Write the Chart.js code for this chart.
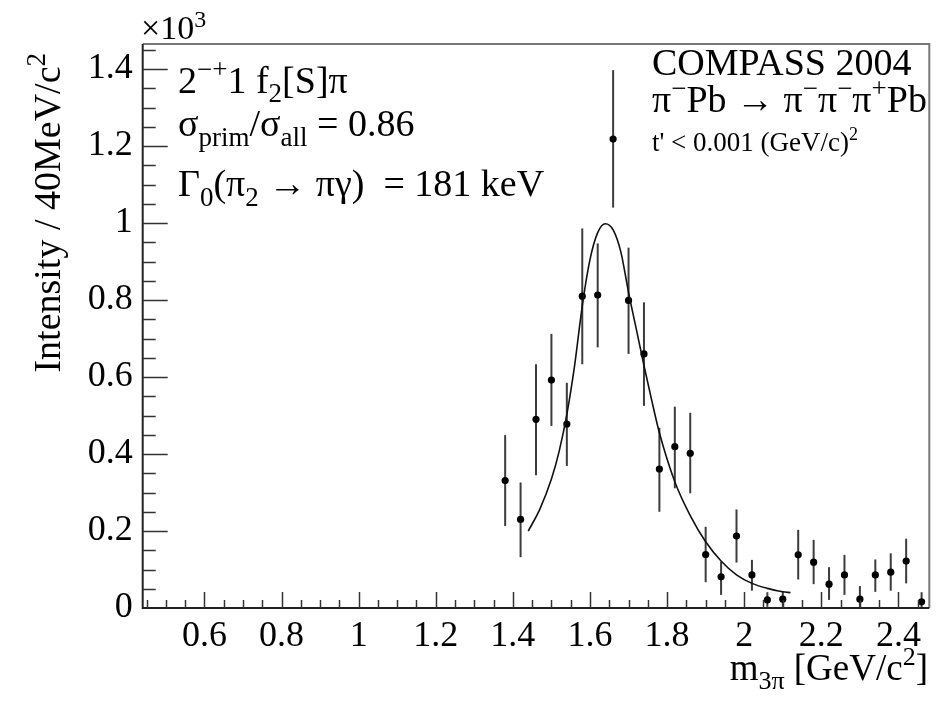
<!DOCTYPE html>
<html>
<head>
<meta charset="utf-8">
<script src="https://cdn.jsdelivr.net/npm/chart.js@4.4.1/dist/chart.umd.min.js"></script>
<style>
  html, body { margin: 0; padding: 0; background: #fff; }
  #wrap { width: 946px; height: 704px; }
</style>
</head>
<body>
<div id="wrap"><canvas id="c"></canvas></div>
<script>
// ─── DATA (values in units of 10^3) ──────────────────────
const massBins = [1.38, 1.42, 1.46, 1.50, 1.54, 1.58, 1.62, 1.66, 1.70, 1.74,
                  1.78, 1.82, 1.86, 1.90, 1.94, 1.98, 2.02, 2.06, 2.10, 2.14,
                  2.18, 2.22, 2.26, 2.30, 2.34, 2.38, 2.42, 2.46];
const intensity = [0.331, 0.230, 0.490, 0.592, 0.478, 0.810, 0.813, 1.218, 0.799, 0.660,
                   0.361, 0.419, 0.402, 0.139, 0.081, 0.187, 0.086, 0.021, 0.023, 0.138,
                   0.119, 0.062, 0.086, 0.023, 0.086, 0.093, 0.122, 0.016];
const errLow    = [0.213, 0.132, 0.345, 0.473, 0.369, 0.633, 0.677, 1.040, 0.660, 0.525,
                   0.250, 0.311, 0.298, 0.067, 0.034, 0.118, 0.045, 0.003, 0.003, 0.074,
                   0.062, 0.021, 0.034, 0.000, 0.042, 0.045, 0.064, 0.000];
const errHigh   = [0.449, 0.326, 0.633, 0.712, 0.585, 0.986, 0.947, 1.397, 0.936, 0.794,
                   0.468, 0.523, 0.507, 0.211, 0.120, 0.256, 0.125, 0.041, 0.042, 0.203,
                   0.177, 0.106, 0.138, 0.057, 0.126, 0.142, 0.180, 0.041];

// fitted curve
const fitMass      = [1.44, 1.47, 1.50, 1.52, 1.54, 1.56, 1.58, 1.60, 1.62, 1.64,
                      1.66, 1.68, 1.70, 1.72, 1.74, 1.76, 1.78, 1.82, 1.86, 1.90,
                      1.94, 1.98, 2.02, 2.06, 2.10, 2.12];
const fitIntensity = [0.200, 0.257, 0.335, 0.407, 0.503, 0.629, 0.785, 0.905, 0.975, 0.998,
                      0.982, 0.925, 0.820, 0.725, 0.630, 0.540, 0.455, 0.328, 0.240, 0.172,
                      0.122, 0.086, 0.064, 0.051, 0.042, 0.040];

const X_MIN = 0.44, X_MAX = 2.48;
const Y_MIN = 0, Y_MAX = 1.465;

const SERIF = "'Liberation Serif', 'Times New Roman', serif";

// ─── RICH TEXT (sub/superscripts) ────────────────────────
// parts: [text, size, rise]
function drawRich(ctx, x, y, parts, align) {
  let w = 0;
  parts.forEach(p => { ctx.font = p[1] + 'px ' + SERIF; w += ctx.measureText(p[0]).width; });
  let cx = align === 'right' ? x - w : x;
  parts.forEach(p => {
    ctx.font = p[1] + 'px ' + SERIF;
    ctx.fillText(p[0], cx, y - (p[2] || 0));
    cx += ctx.measureText(p[0]).width;
  });
}

// ─── ROOT-STYLE FRAME, INNER TICKS, ERROR BARS, TEXT ─────
const rootStyle = {
  id: 'rootStyle',
  beforeDatasetsDraw(chart) {
    const { ctx, scales: { x, y } } = chart;
    ctx.save();
    ctx.strokeStyle = '#3c3c3c';
    ctx.lineWidth = 2;
    massBins.forEach((m, i) => {
      const px = x.getPixelForValue(m);
      ctx.beginPath();
      ctx.moveTo(px, y.getPixelForValue(errLow[i]));
      ctx.lineTo(px, y.getPixelForValue(errHigh[i]));
      ctx.stroke();
    });
    ctx.restore();
  },
  afterDraw(chart) {
    const { ctx, chartArea: a, scales: { x, y } } = chart;
    ctx.save();

    // frame
    ctx.strokeStyle = '#777';
    ctx.lineWidth = 2;
    ctx.beginPath();
    ctx.moveTo(a.left, a.top); ctx.lineTo(a.right, a.top); ctx.lineTo(a.right, a.bottom);
    ctx.stroke();
    ctx.strokeStyle = '#222';
    ctx.beginPath();
    ctx.moveTo(a.left, a.top); ctx.lineTo(a.left, a.bottom); ctx.lineTo(a.right, a.bottom);
    ctx.stroke();

    // inner ticks
    ctx.strokeStyle = '#333';
    ctx.lineWidth = 1.5;
    for (let k = 9; k * 0.05 < X_MAX; k++) {
      const px = Math.round(x.getPixelForValue(k * 0.05)) + 0.5;
      const len = k % 4 === 0 ? 16 : 8;
      ctx.beginPath(); ctx.moveTo(px, a.bottom); ctx.lineTo(px, a.bottom - len); ctx.stroke();
    }
    for (let k = 1; k * 0.05 < Y_MAX; k++) {
      const py = Math.round(y.getPixelForValue(k * 0.05)) + 0.5;
      const len = k % 4 === 0 ? 25 : 13;
      ctx.beginPath(); ctx.moveTo(a.left, py); ctx.lineTo(a.left + len, py); ctx.stroke();
    }

    ctx.fillStyle = '#000';
    ctx.textBaseline = 'alphabetic';
    ctx.textAlign = 'left';

    // exponent
    drawRich(ctx, 141, 39, [['×10', 34], ['3', 24, 12]]);

    // left legend
    drawRich(ctx, 178, 93, [['2', 38], ['−+', 27, 15], ['1 f', 38], ['2', 27, -9], ['[S]π', 38]]);
    drawRich(ctx, 178, 136, [['σ', 38], ['prim', 27, -10], ['/σ', 38], ['all', 27, -10], [' = 0.86', 38]]);
    drawRich(ctx, 178, 196, [['Γ', 38], ['0', 27, -10], ['(π', 38], ['2', 27, -10], [' → πγ)  = 181 keV', 38]]);

    // right legend
    drawRich(ctx, 652, 75, [['COMPASS 2004', 38]]);
    drawRich(ctx, 652, 112, [['π', 38], ['−', 27, 15], ['Pb → π', 38], ['−', 27, 15], ['π', 38], ['−', 27, 15],
                             ['π', 38], ['+', 27, 15], ['Pb', 38]]);
    drawRich(ctx, 652, 151, [["t' < 0.001 (GeV/c)", 27], ['2', 18, 11]]);

    // axis titles
    drawRich(ctx, 928, 680, [['m', 37], ['3π', 26, -9], [' [GeV/c', 37], ['2', 26, 15], [']', 37]], 'right');
    ctx.translate(60, 53);
    ctx.rotate(-Math.PI / 2);
    drawRich(ctx, 0, 0, [['Intensity / 40MeV/c', 38], ['2', 27, 15]], 'right');

    ctx.restore();
  }
};

// ─── CHART ───────────────────────────────────────────────
const tickFmt = v => String(+v.toFixed(2));

new Chart(document.getElementById('c'), {
  data: {
    datasets: [
      {
        type: 'line',
        data: fitMass.map((m, i) => ({ x: m, y: fitIntensity[i] })),
        borderColor: '#111',
        borderWidth: 1.6,
        pointRadius: 0,
        fill: false,
        cubicInterpolationMode: 'monotone'
      },
      {
        type: 'scatter',
        data: massBins.map((m, i) => ({ x: m, y: intensity[i] })),
        backgroundColor: '#000',
        borderColor: '#000',
        pointRadius: 3.6,
        borderWidth: 0
      }
    ]
  },
  options: {
    responsive: true,
    maintainAspectRatio: false,
    animation: false,
    layout: { padding: { top: 44, right: 16.7, left: 0, bottom: 0 } },
    plugins: { legend: { display: false }, tooltip: { enabled: false } },
    scales: {
      x: {
        type: 'linear',
        min: X_MIN, max: X_MAX,
        grid: { display: false, drawTicks: false },
        border: { display: false },
        ticks: {
          stepSize: 0.2, includeBounds: false, autoSkip: false, maxRotation: 0,
          padding: 7, color: '#000',
          font: { family: SERIF, size: 36 },
          callback: tickFmt
        },
        afterFit: s => { s.height = 96; }
      },
      y: {
        type: 'linear',
        min: Y_MIN, max: Y_MAX,
        grid: { display: false, drawTicks: false },
        border: { display: false },
        ticks: {
          stepSize: 0.2, includeBounds: false, autoSkip: false,
          padding: 10, color: '#000',
          font: { family: SERIF, size: 36 },
          callback: tickFmt
        },
        afterFit: s => { s.width = 142.7; }
      }
    }
  },
  plugins: [rootStyle]
});
</script>
</body>
</html>
